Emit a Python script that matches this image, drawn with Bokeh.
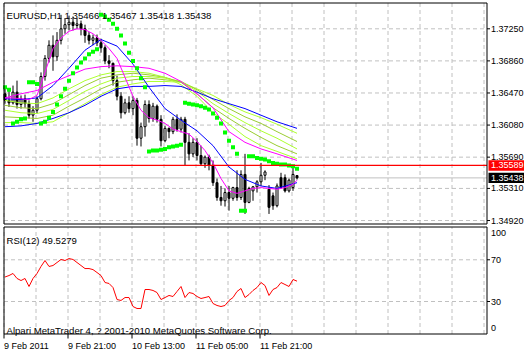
from bokeh.plotting import figure
from bokeh.layouts import column
from bokeh.models import Range1d, ColumnDataSource
from bokeh.core.properties import value
from bokeh.embed import file_html
from bokeh.resources import INLINE

symbol = "EURUSD,H1"
rsi_name = "RSI(12)"
copyright_text = "Alpari MetaTrader 4, ? 2001-2010 MetaQuotes Software Corp."
time_labels = ["9 Feb 2011", "9 Feb 21:00", "10 Feb 13:00", "11 Feb 05:00", "11 Feb 21:00"]
time_label_bars = [0, 16, 32, 48, 64]
grid_bars = [0, 8, 16, 24, 32, 40, 48, 56, 64, 72, 80, 88, 96, 104, 112, 120]
price_ticks = [1.37250, 1.36860, 1.36470, 1.36080, 1.35690, 1.35310, 1.34920]
rsi_axis_values = [100, 70, 30, 0]
rsi_levels = [30, 70]
level_line = 1.35589

opens = [1.3646, 1.3638, 1.3635, 1.3648, 1.3633, 1.3640, 1.3634, 1.3620, 1.3626, 1.3640,
         1.3667, 1.3689, 1.3705, 1.3691, 1.3711, 1.3725, 1.3730, 1.3733, 1.3729, 1.3731,
         1.3725, 1.3717, 1.3711, 1.3714, 1.3708, 1.3702, 1.3686, 1.3683, 1.3662, 1.3643,
         1.3623, 1.3635, 1.3628, 1.3638, 1.3592, 1.3606, 1.3633, 1.3616, 1.3631, 1.3615,
         1.3589, 1.3604, 1.3600, 1.3615, 1.3603, 1.3615, 1.3587, 1.3573, 1.3587, 1.3571,
         1.3561, 1.3569, 1.3559, 1.3538, 1.3520, 1.3516, 1.3526, 1.3519, 1.3532, 1.3520,
         1.3548, 1.3514, 1.3528, 1.3533, 1.3539, 1.3547, 1.3530, 1.3522, 1.3510, 1.3544,
         1.3544, 1.3528, 1.3532, 1.35466]
highs = [1.3652, 1.3650, 1.3656, 1.3662, 1.3644, 1.3645, 1.3638, 1.3631, 1.3643, 1.3672,
         1.3693, 1.3711, 1.3717, 1.3721, 1.3742, 1.3738, 1.3741, 1.3740, 1.3738, 1.3735,
         1.3730, 1.3721, 1.3718, 1.3718, 1.3713, 1.3705, 1.3693, 1.3684, 1.3668, 1.3648,
         1.3640, 1.3643, 1.3643, 1.3641, 1.3611, 1.3638, 1.3638, 1.3635, 1.3633, 1.3620,
         1.3607, 1.3605, 1.3618, 1.3621, 1.3618, 1.3618, 1.3598, 1.3592, 1.3592, 1.3583,
         1.3571, 1.3572, 1.3565, 1.3543, 1.3534, 1.3531, 1.3534, 1.3533, 1.3553, 1.3553,
         1.3573, 1.3533, 1.3534, 1.3541, 1.3562, 1.3553, 1.3535, 1.3526, 1.3537, 1.3550,
         1.3548, 1.3543, 1.3556, 1.35467]
lows = [1.3634, 1.3630, 1.3633, 1.3628, 1.3628, 1.3629, 1.3616, 1.3612, 1.3622, 1.3638,
        1.3662, 1.3684, 1.3674, 1.3686, 1.3706, 1.3719, 1.3723, 1.3723, 1.3725, 1.3717,
        1.3708, 1.3706, 1.3705, 1.3704, 1.3696, 1.3682, 1.3677, 1.3656, 1.3638, 1.3616,
        1.3621, 1.3623, 1.3620, 1.3583, 1.3582, 1.3594, 1.3611, 1.3612, 1.3611, 1.3582,
        1.3587, 1.3592, 1.3597, 1.3600, 1.3599, 1.3559, 1.3565, 1.3569, 1.3565, 1.3559,
        1.3556, 1.3553, 1.3534, 1.3516, 1.3510, 1.3509, 1.3504, 1.3516, 1.3516, 1.3517,
        1.3500, 1.3513, 1.3516, 1.3526, 1.3534, 1.3541, 1.3500, 1.3505, 1.3508, 1.3531,
        1.3526, 1.3526, 1.3528, 1.35418]
closes = [1.3638, 1.3635, 1.3648, 1.3633, 1.3640, 1.3634, 1.3620, 1.3626, 1.3640, 1.3667,
          1.3689, 1.3705, 1.3691, 1.3711, 1.3725, 1.3730, 1.3733, 1.3729, 1.3731, 1.3725,
          1.3717, 1.3711, 1.3714, 1.3708, 1.3702, 1.3686, 1.3683, 1.3662, 1.3643, 1.3623,
          1.3635, 1.3628, 1.3638, 1.3592, 1.3606, 1.3633, 1.3616, 1.3631, 1.3615, 1.3589,
          1.3604, 1.3600, 1.3615, 1.3603, 1.3615, 1.3587, 1.3573, 1.3587, 1.3571, 1.3561,
          1.3569, 1.3559, 1.3538, 1.3520, 1.3516, 1.3526, 1.3519, 1.3532, 1.3520, 1.3548,
          1.3514, 1.3531, 1.3533, 1.3539, 1.3547, 1.3551, 1.3508, 1.3510, 1.3534, 1.3532,
          1.3528, 1.3541, 1.3548, 1.35438]

sar = [1.3654, 1.3651, 1.3610, 1.3612, 1.3615, 1.3616, 1.3660, 1.3660, 1.3658, 1.3610,
       1.3612, 1.3617, 1.3624, 1.3633, 1.3643, 1.3652, 1.3662, 1.3671, 1.3678, 1.3684,
       1.3689, 1.3694, 1.3697, 1.3700, 1.3742, 1.3740, 1.3736, 1.3731, 1.3725, 1.3717,
       1.3707, 1.3696, 1.3686, 1.3677, 1.3665, 1.3654, 1.3576, 1.3577, 1.3577, 1.3578,
       1.3579, 1.3581, 1.3582, 1.3583, 1.3584, 1.3635, 1.3634, 1.3633, 1.3632, 1.3631,
       1.3629, 1.3627, 1.3622, 1.3617, 1.3610, 1.3599, 1.3589, 1.3581, 1.3573, 1.3504,
       1.3504, 1.3570, 1.3570, 1.3568, 1.3567, 1.3566, 1.3564, 1.3562, 1.3561, 1.3560,
       1.3560, 1.3559, 1.3558, 1.3555]

ma_bars = [0, 4, 8, 12, 16, 20, 24, 28, 32, 36, 40, 44, 48, 52, 56, 60, 64, 68, 73]
blue_fast = [1.3640, 1.3639, 1.3641, 1.3656, 1.3677, 1.3699, 1.3712, 1.3704, 1.3682, 1.3654,
             1.3628, 1.3614, 1.3601, 1.3583, 1.3557, 1.3542, 1.3534, 1.3531, 1.3538]
blue_slow = [1.3606, 1.3607, 1.3610, 1.3616, 1.3623, 1.3632, 1.3643, 1.3652, 1.3655, 1.3655,
             1.3656, 1.3655, 1.3648, 1.3640, 1.3634, 1.3628, 1.3620, 1.3612, 1.3604]
magenta_slow = [1.3641, 1.3646, 1.3650, 1.3660, 1.3668, 1.3676, 1.3679, 1.3680, 1.3679, 1.3677,
                1.3671, 1.3661, 1.3646, 1.3629, 1.3600, 1.3587, 1.3579, 1.3573, 1.3565]
green_1 = [1.3638, 1.3635, 1.3634, 1.3641, 1.3652, 1.3662, 1.3669, 1.3673, 1.3673, 1.3671,
           1.3666, 1.3657, 1.3643, 1.3623, 1.3609, 1.3594, 1.3583, 1.3576, 1.3567]
green_2 = [1.3632, 1.3629, 1.3628, 1.3634, 1.3645, 1.3656, 1.3665, 1.3669, 1.3671, 1.3669,
           1.3666, 1.3660, 1.3646, 1.3629, 1.3616, 1.3604, 1.3593, 1.3583, 1.3573]
green_3 = [1.3626, 1.3623, 1.3622, 1.3627, 1.3638, 1.3649, 1.3658, 1.3665, 1.3667, 1.3667,
           1.3665, 1.3661, 1.3649, 1.3634, 1.3622, 1.3611, 1.3601, 1.3592, 1.3579]
green_4 = [1.3618, 1.3617, 1.3616, 1.3620, 1.3631, 1.3641, 1.3652, 1.3660, 1.3663, 1.3665,
           1.3663, 1.3661, 1.3651, 1.3639, 1.3628, 1.3618, 1.3610, 1.3600, 1.3588]
green_5 = [1.3611, 1.3611, 1.3610, 1.3612, 1.3623, 1.3634, 1.3645, 1.3654, 1.3658, 1.3661,
           1.3661, 1.3660, 1.3652, 1.3644, 1.3633, 1.3624, 1.3617, 1.3609, 1.3598]

magenta_fast_bars = [0, 2, 4, 6, 8, 10, 12, 14, 16, 18, 20, 22, 24, 26, 28, 30, 32, 34, 36,
                     38, 40, 42, 44, 46, 48, 50, 52, 54, 56, 58, 60, 62, 64, 66, 68, 70, 72, 73]
magenta_fast = [1.3641, 1.3641, 1.3640, 1.3639, 1.3644, 1.3672, 1.3701, 1.3714, 1.3722, 1.3725,
                1.3724, 1.3719, 1.3711, 1.3701, 1.3689, 1.3666, 1.3643, 1.3626, 1.3617, 1.3614,
                1.3610, 1.3603, 1.3600, 1.3597, 1.3588, 1.3577, 1.3562, 1.3543, 1.3528, 1.3525,
                1.3528, 1.3531, 1.3532, 1.3531, 1.3530, 1.3532, 1.3536, 1.3541]

rsi = [53.5, 54.9, 56.9, 52.1, 50.1, 52.1, 44.4, 52.1, 56.9, 63.6,
       69.3, 63.6, 64.5, 67.4, 70.3, 69.3, 71.2, 70.3, 67.4, 64.5,
       61.6, 61.6, 60.6, 57.8, 54.9, 48.2, 47.3, 43.4, 31.9, 31.0,
       33.8, 33.8, 25.2, 23.3, 23.3, 41.5, 41.5, 40.6, 38.6, 31.9,
       33.8, 35.8, 34.8, 39.6, 44.4, 33.8, 38.6, 37.7, 34.8, 32.9,
       33.8, 34.8, 28.1, 26.2, 25.2, 26.2, 31.0, 33.8, 39.6, 42.5,
       33.8, 36.7, 40.6, 43.4, 48.2, 45.3, 35.8, 41.5, 43.4, 48.2,
       46.3, 44.4, 51.1, 49.5279]

# ---------------- layout helpers (canvas pixel -> data) ----------------
FONT = value("Liberation Sans")
FS = value("9px")
FS_BIG = value("9.6px")
GRID = "#C0C0C0"
K = 1.2154e-4                      # price per pixel
P0 = 1.37250 + 28.3 * K            # price at canvas y = 0


def X(px):
    return (px - 4.5) / 4.0


def YP(py):
    return P0 - py * K


def YR(py):
    return (332.3 - py) / 1.043


L, R = 3.5, 486.5
MT, MB = 2.5, 223.5
RT, RB = 226.5, 333.5
MAIN_H, RSI_H = 225, 126


def base_fig(h, y0, y1, xr=None):
    f = figure(width=524, height=h,
               x_range=xr if xr is not None else Range1d(X(0), X(524)),
               y_range=Range1d(y0, y1),
               x_axis_location=None, y_axis_location=None,
               output_backend="svg", toolbar_location=None,
               min_border=0, min_border_left=0, min_border_right=0,
               min_border_top=0, min_border_bottom=0)
    f.grid.visible = False
    f.outline_line_color = None
    f.background_fill_color = "white"
    f.border_fill_color = "white"
    return f


# ---------------- main price panel ----------------
p = base_fig(MAIN_H, YP(MAIN_H), YP(0))
gx = [b - 0.25 for b in grid_bars]
p.segment(x0=gx, y0=[YP(MB)] * len(gx), x1=gx, y1=[YP(MT)] * len(gx),
          line_color=GRID, line_dash="4 3", line_width=1)
p.segment(x0=[X(L)] * len(price_ticks), y0=price_ticks, x1=[X(R)] * len(price_ticks),
          y1=price_ticks, line_color=GRID, line_dash="4 3", line_width=1)

p.segment(x0=[X(L)], y0=[closes[-1]], x1=[X(R)], y1=[closes[-1]],
          line_color="#C0C0C0", line_width=1)

idx = list(range(len(opens)))
src = ColumnDataSource(dict(
    x=idx, hi=highs, lo=lows,
    top=[max(o, c) for o, c in zip(opens, closes)],
    bot=[min(o, c) for o, c in zip(opens, closes)],
    fill=["white" if c >= o else "black" for o, c in zip(opens, closes)],
))
p.segment(x0="x", y0="lo", x1="x", y1="hi", source=src, line_color="black", line_width=1)
p.vbar(x="x", width=0.5, top="top", bottom="bot", source=src,
       fill_color="fill", line_color="black", line_width=1)

for ys, col in [(green_5, "#ADFF2F"), (green_4, "#9ACD32"), (green_3, "#ADFF2F"),
                (green_2, "#9ACD32"), (green_1, "#ADFF2F")]:
    p.line(ma_bars, ys, line_color=col, line_width=1)
p.line(ma_bars, blue_slow, line_color="#0000FF", line_width=1)
p.line(ma_bars, blue_fast, line_color="#0000FF", line_width=1)
p.line(ma_bars, magenta_slow, line_color="#FF00FF", line_width=1)
p.line(magenta_fast_bars, magenta_fast, line_color="#FF00FF", line_width=1)

p.scatter(idx, sar, marker="square", size=4, fill_color="#00FF00", line_color=None)

p.segment(x0=[X(L)], y0=[level_line], x1=[X(R)], y1=[level_line],
          line_color="#FF0000", line_width=1.3)

# frame border
p.quad(left=[X(L)], right=[X(R)], top=[YP(MT)], bottom=[YP(MB)],
       fill_color=None, line_color="black", line_width=1)

# price scale
p.segment(x0=[X(R)] * len(price_ticks), y0=price_ticks, x1=[X(489.5)] * len(price_ticks),
          y1=price_ticks, line_color="black", line_width=1)
p.text(x=[X(490.5)] * len(price_ticks), y=price_ticks,
       text=[f"{t:.5f}" for t in price_ticks],
       text_font=FONT, text_font_size=FS, text_color="black",
       text_align="left", text_baseline="middle")

# current level boxes
box_h = 5.2 * K
p.quad(left=[X(488), X(488)], right=[X(530), X(530)],
       top=[level_line + box_h, closes[-1] + box_h],
       bottom=[level_line - box_h, closes[-1] - box_h],
       fill_color=["#FF0000", "#000000"], line_color=None)
p.text(x=[X(490.5), X(490.5)], y=[level_line, closes[-1]],
       text=[f"{level_line:.5f}", f"{closes[-1]:.5f}"],
       text_font=FONT, text_font_size=FS, text_color="white",
       text_align="left", text_baseline="middle")

head = f"{symbol}  {opens[-1]:.5f} {highs[-1]:.5f} {lows[-1]:.5f} {closes[-1]:.5f}"
p.text(x=[X(6)], y=[YP(14.8)], text=[head], text_font=FONT, text_font_size=FS_BIG,
       text_color="black", text_align="left", text_baseline="alphabetic")

# ---------------- RSI panel ----------------
r = base_fig(RSI_H, YR(351), YR(MAIN_H), xr=p.x_range)
r.segment(x0=gx, y0=[YR(RB)] * len(gx), x1=gx, y1=[YR(RT)] * len(gx),
          line_color=GRID, line_dash="4 3", line_width=1)
r.segment(x0=[X(L)] * len(rsi_levels), y0=rsi_levels, x1=[X(R)] * len(rsi_levels),
          y1=rsi_levels, line_color=GRID, line_dash="4 3", line_width=1)

r.line(idx, rsi, line_color="#FF0000", line_width=1)

r.quad(left=[X(L)], right=[X(R)], top=[YR(RT)], bottom=[YR(RB)],
       fill_color=None, line_color="black", line_width=1)

# RSI scale (edge labels are kept inside the panel like MetaTrader does)
lab_y = [min(max(v, 5.0), 96.0) for v in rsi_axis_values]
r.segment(x0=[X(R)] * len(rsi_levels), y0=rsi_levels, x1=[X(489.5)] * len(rsi_levels),
          y1=rsi_levels, line_color="black", line_width=1)
r.text(x=[X(490.5)] * len(rsi_axis_values), y=lab_y, text=[str(v) for v in rsi_axis_values],
       text_font=FONT, text_font_size=FS, text_color="black",
       text_align="left", text_baseline="middle")

# time scale
tx = [b - 0.25 for b in time_label_bars]
r.segment(x0=tx, y0=[YR(RB)] * len(tx), x1=tx, y1=[YR(338)] * len(tx),
          line_color="black", line_width=1)
r.text(x=tx, y=[YR(345.5)] * len(tx), text=time_labels,
       text_font=FONT, text_font_size=FS, text_color="black",
       text_align="left", text_baseline="alphabetic")

r.text(x=[X(6)], y=[YR(239.5)], text=[f"{rsi_name} {rsi[-1]:.4f}"],
       text_font=FONT, text_font_size=FS_BIG, text_color="black",
       text_align="left", text_baseline="alphabetic")
r.text(x=[X(6)], y=[YR(329.5)], text=[copyright_text],
       text_font=FONT, text_font_size=FS_BIG, text_color="black",
       text_align="left", text_baseline="alphabetic")

layout = column(p, r, spacing=0)
open("out.html", "w").write(file_html(layout, INLINE))
